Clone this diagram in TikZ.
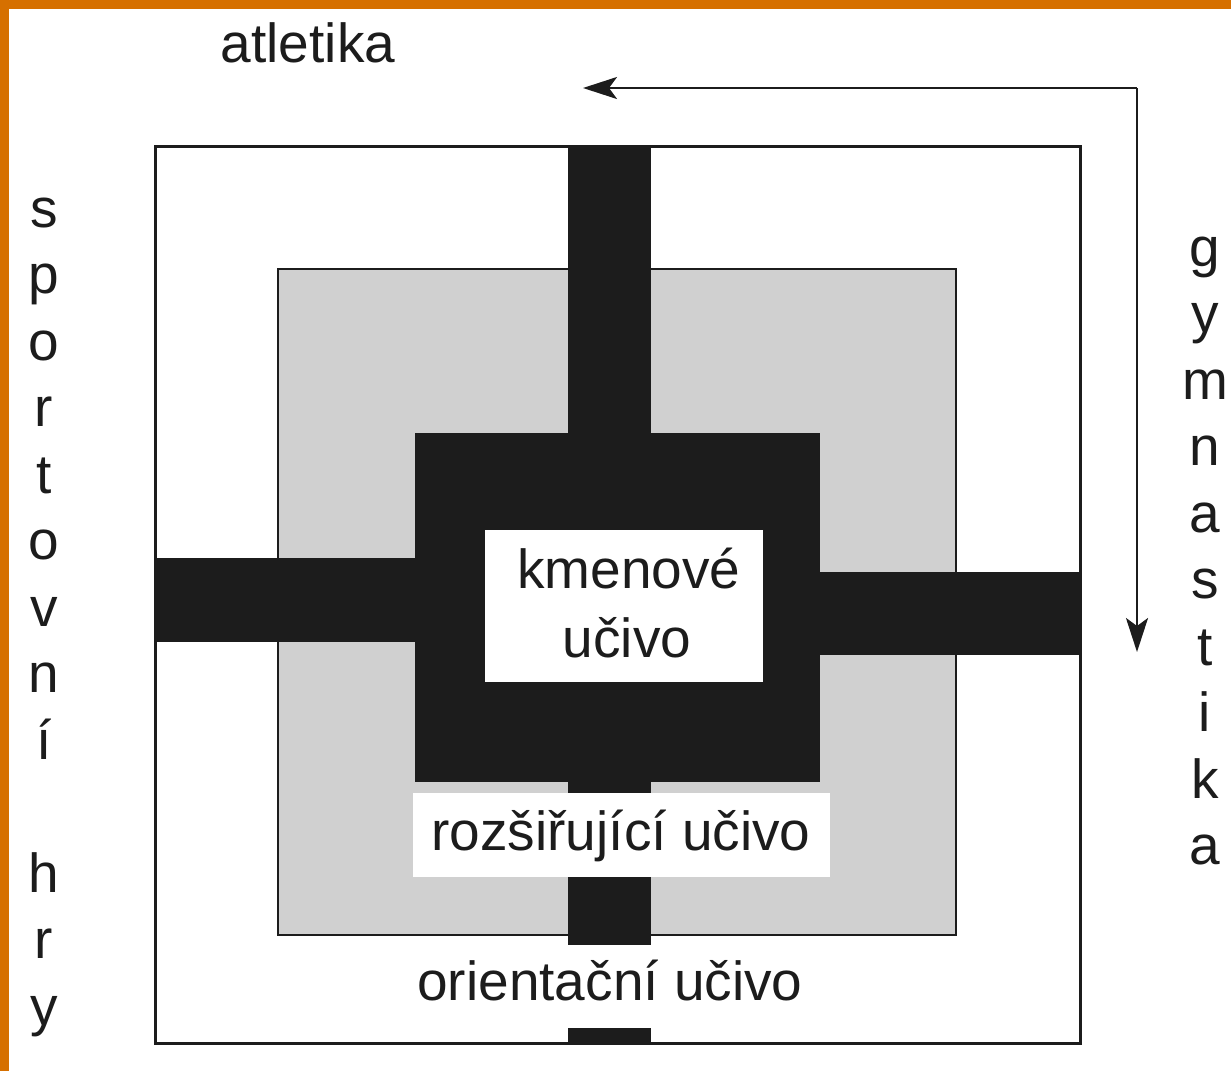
\documentclass[tikz,border=0pt]{standalone}
\usepackage{fontspec}
\setmainfont{Liberation Sans}
\usetikzlibrary{arrows.meta}
\definecolor{slideorange}{RGB}{214,112,0}
\definecolor{stipple}{RGB}{208,208,208}
\definecolor{ink}{RGB}{28,28,28}
\tikzset{
  frame/.style={draw=ink, line width=3pt},
  graybox/.style={fill=stipple, draw=ink, line width=2.5pt},
  lbl/.style={font=\fontsize{55}{60}\selectfont, text=ink, inner sep=0pt, anchor=base},
  arr/.style={draw=ink, line width=2.5pt, -{Stealth[length=34pt,width=22pt,inset=8pt]}}
}
\begin{document}
\begin{tikzpicture}[x=1pt,y=-1pt]
\useasboundingbox (0,0) rectangle (1231,1071);
% slide background
\fill[white] (0,0) rectangle (1231,1071);
\fill[slideorange] (0,0) rectangle (1231,9);
\fill[slideorange] (0,0) rectangle (9,1071);
% outer box (orientacni)
\draw[frame, fill=white] (155,146) rectangle (1080,1043);
% gray box (rozsirujici)
\draw[graybox] (278,269) rectangle (956,935);
% bars
\fill[ink] (568,146) rectangle (651,433);
\fill[ink] (155,558) rectangle (415,642);
\fill[ink] (820,572) rectangle (1080,655);
\fill[ink] (568,782) rectangle (651,945);
\fill[ink] (568,1028) rectangle (651,1043);
% dark core box
\fill[ink] (415,433) rectangle (820,782);
% white label boxes
\fill[white] (485,530) rectangle (763,682);
\fill[white] (413,793) rectangle (830,877);
% labels
\node[lbl] (atl) at (308,62) {atletika};
\node[lbl] (km1) at (629,588) {kmenové};
\node[lbl] (km2) at (627,657) {učivo};
\node[lbl] (roz) at (621,850) {rozšiřující učivo};
\node[lbl] (ori) at (610,1000) {orientační učivo};
% vertical words
\foreach \l/\k in {s/0,p/1,o/2,r/3,t/4,o/5,v/6,n/7,í/8,h/10,r/11,y/12}
  \node[lbl] (sp\k) at (44,{227+66.5*\k}) {\l};
\foreach \l/\k in {g/0,y/1,m/2,n/3,a/4,s/5,t/6,i/7,k/8,a/9}
  \node[lbl] (gy\k) at (1205,{266+66.5*\k}) {\l};
% arrows
\coordinate (corner) at (1137,88);
\coordinate (atip) at (583,88);
\coordinate (gtip) at (1137,652);
\draw[arr] (corner) -- (atip);
\draw[arr] (corner) -- (gtip);
\end{tikzpicture}
\end{document}
